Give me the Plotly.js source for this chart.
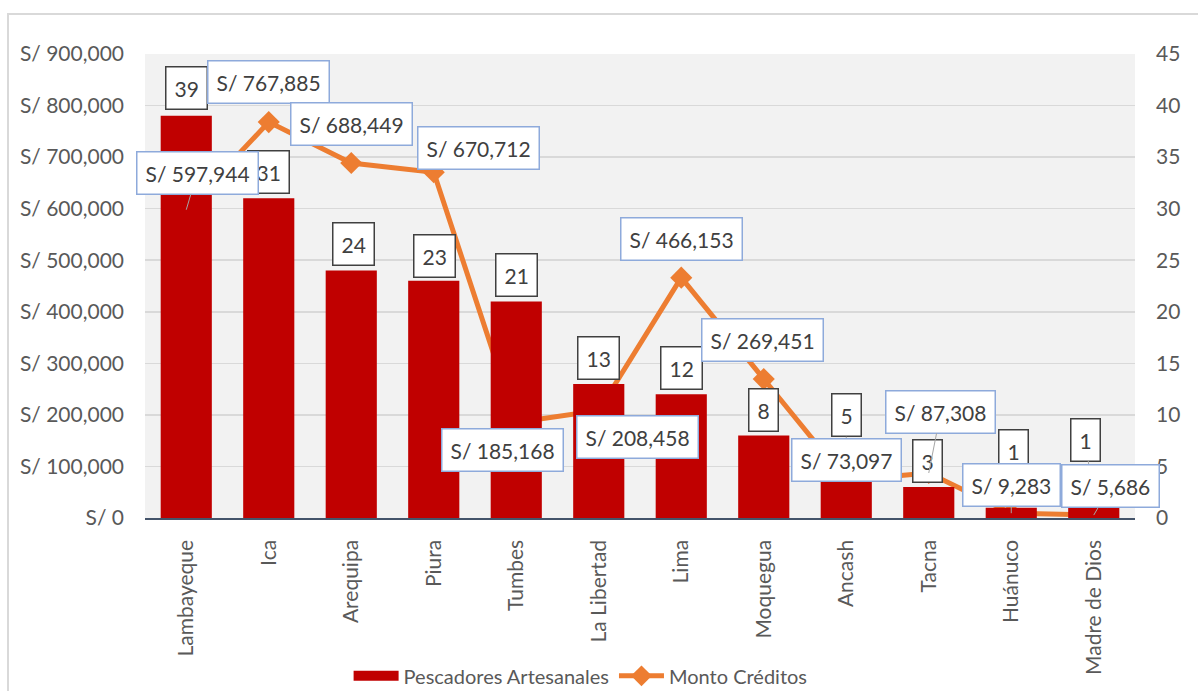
<!DOCTYPE html>
<html><head><meta charset="utf-8">
<script src="https://cdn.plot.ly/plotly-3.0.1.min.js"></script>
<style>
html,body{margin:0;padding:0;background:#fff;}
#frame{position:absolute;left:7px;top:13px;width:1300px;height:800px;border-left:2px solid #d9d9d9;border-top:2px solid #d9d9d9;}
#chart{position:absolute;left:0;top:0;width:1198px;height:691px;}
</style></head>
<body>
<div id="frame"></div>
<div id="chart"></div>
<script>
const regions = ["Lambayeque","Ica","Arequipa","Piura","Tumbes","La Libertad","Lima","Moquegua","Ancash","Tacna","Huánuco","Madre de Dios"];
const pescadores = [39,31,24,23,21,13,12,8,5,3,1,1];
const montoCreditos = [597944,767885,688449,670712,185168,208458,466153,269451,73097,87308,9283,5686];

// label placement (pixel offsets from the data point): [dx, dyUp, leaderLine]
const barLabelPos = [[0,28,0],[0,26,0],[2,27,0],[1,25,0],[0,26,0],[0,26,0],[0,26,0],[0,26,0],[0,51,1],[-1,26,0],[2,57,1],[-8,68,1]];
const lineLabelPos = [[11,37,1],[0,40,0],[0,39,0],[45,24,0],[-14,-27,0],[39,-26,0],[0,39,0],[-1,39,0],[0,20,0],[12,61,1],[0,28,1],[17,29,1]];

const font = "Lato, 'Open Sans', sans-serif";
const fmt = v => "S/ " + v.toLocaleString("en-US");

const annotations = [];
regions.forEach((r,i)=>{
  const p = barLabelPos[i];
  const a = {x:r, y:pescadores[i], xref:'x', yref:'y2', text:String(pescadores[i]),
    font:{family:font,size:21,color:'#404040'}, bgcolor:'#ffffff', bordercolor:'#404040', borderwidth:1.5, borderpad:8};
  if(p[2]){ Object.assign(a,{showarrow:true, arrowhead:0, arrowwidth:1, arrowcolor:'#a6a6a6', ax:p[0], ay:-p[1], standoff:0}); }
  else { Object.assign(a,{showarrow:false, xshift:p[0], yshift:p[1]}); }
  annotations.push(a);
});
regions.forEach((r,i)=>{
  const p = lineLabelPos[i];
  const a = {x:r, y:montoCreditos[i], xref:'x', yref:'y', text:fmt(montoCreditos[i]),
    font:{family:font,size:21,color:'#404040'}, bgcolor:'#ffffff', bordercolor:'#8eaadb', borderwidth:1.5, borderpad:8};
  if(p[2]){ Object.assign(a,{showarrow:true, arrowhead:0, arrowwidth:1, arrowcolor:'#a6a6a6', ax:p[0], ay:-p[1], standoff:0}); }
  else { Object.assign(a,{showarrow:false, xshift:p[0], yshift:p[1]}); }
  annotations.push(a);
});

const traces = [
  {type:'bar', name:'Pescadores Artesanales', x:regions, y:pescadores, yaxis:'y2',
   marker:{color:'#c00000'}, hoverinfo:'skip', showlegend:false},
  // legend-only entry giving the wide Excel-style swatch
  {type:'scatter', mode:'lines', name:'Pescadores Artesanales', x:[regions[0]], y:[null], yaxis:'y2',
   line:{color:'#c00000', width:14}, hoverinfo:'skip'},
  {type:'scatter', mode:'lines+markers', name:'Monto Créditos', x:regions, y:montoCreditos, yaxis:'y',
   line:{color:'#ed7d31', width:5}, marker:{symbol:'diamond', size:17, color:'#ed7d31'}, hoverinfo:'skip'}
];

const tf = {family:font,size:21,color:'#595959'};
const layout = {
  width:1198, height:691,
  margin:{l:145, r:63, t:54, b:173, autoexpand:false},
  paper_bgcolor:'rgba(0,0,0,0)', plot_bgcolor:'#f2f2f2',
  bargap:0.38,
  font:{family:font, color:'#595959', size:21},
  xaxis:{type:'category', range:[-0.5, regions.length-0.5], tickangle:-90, showline:true, linecolor:'#44546a', linewidth:1.5, showgrid:false,
    ticks:'', tickfont:tf, ticklabelstandoff:12, automargin:false},
  yaxis:{range:[0,900000], dtick:100000, tickprefix:'S/ ', tickformat:',d', showgrid:true, gridcolor:'#d9d9d9', gridwidth:1.5,
    zeroline:false, ticks:'', tickfont:tf, ticklabelstandoff:20, automargin:false},
  yaxis2:{range:[0,45], dtick:5, overlaying:'y', side:'right', showgrid:false, zeroline:false, ticks:'',
    tickfont:tf, ticklabelstandoff:20, automargin:false},
  showlegend:true,
  legend:{orientation:'h', yref:'container', x:0.44, xanchor:'center', y:0.022, yanchor:'middle',
    font:{family:font,size:20,color:'#595959'},
    bgcolor:'rgba(0,0,0,0)', traceorder:'normal', itemwidth:45},
  annotations:annotations
};
Plotly.newPlot('chart', traces, layout, {displayModeBar:false, staticPlot:true});
</script>
</body></html>
